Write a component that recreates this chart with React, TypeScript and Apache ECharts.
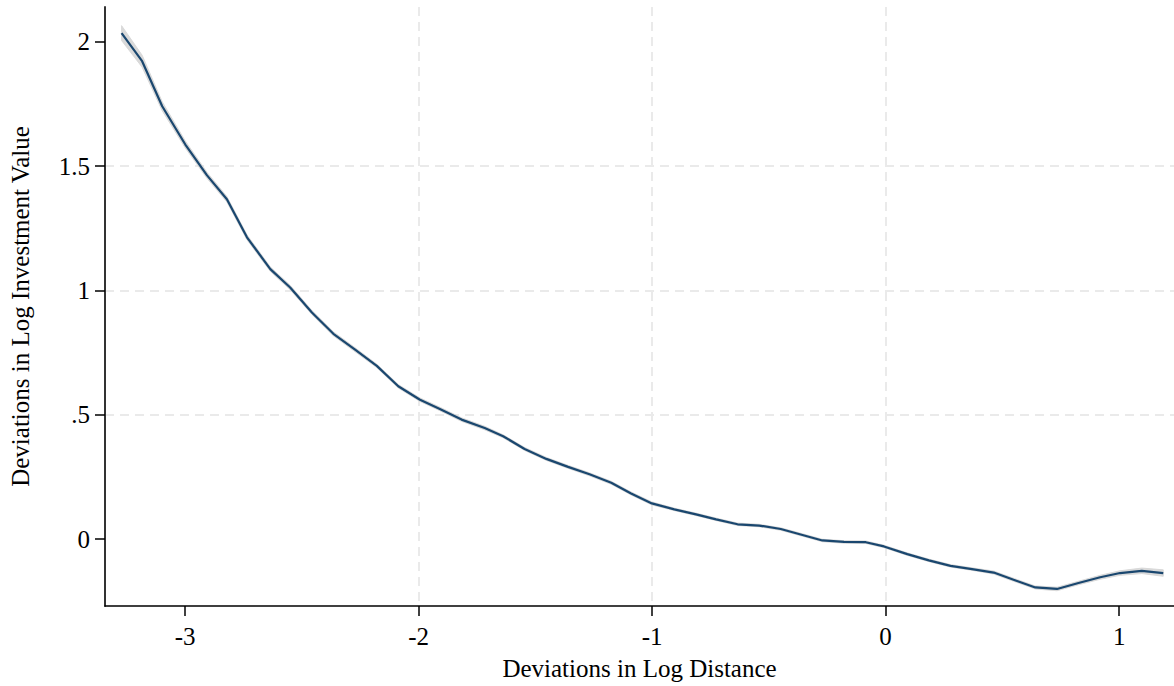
import React, { useEffect, useRef } from "react";
import * as echarts from "echarts";

const xValues = [
  -3.272, -3.184, -3.098, -2.999, -2.906, -2.821, -2.735, -2.635, -2.55, -2.457,
  -2.365, -2.272, -2.179, -2.087, -1.994, -1.909, -1.816, -1.717, -1.638, -1.546,
  -1.453, -1.36, -1.268, -1.175, -1.09, -1.001, -0.905, -0.812, -0.726, -0.634,
  -0.541, -0.449, -0.356, -0.271, -0.178, -0.085, -0.007, 0.093, 0.185, 0.278,
  0.37, 0.463, 0.548, 0.641, 0.734, 0.826, 0.919, 1.004, 1.097, 1.189,
];
const yValues = [
  2.035, 1.922, 1.741, 1.587, 1.463, 1.367, 1.214, 1.086, 1.012, 0.912,
  0.826, 0.762, 0.697, 0.615, 0.561, 0.524, 0.481, 0.447, 0.414, 0.363,
  0.323, 0.291, 0.261, 0.227, 0.184, 0.144, 0.12, 0.1, 0.08, 0.06,
  0.055, 0.041, 0.017, -0.005, -0.011, -0.012, -0.029, -0.06, -0.085, -0.107,
  -0.12, -0.134, -0.163, -0.194, -0.2, -0.176, -0.153, -0.136, -0.127, -0.136,
];
const ciHalfWidth = [
  0.03, 0.024, 0.018, 0.014, 0.012, 0.011, 0.01, 0.009, 0.009, 0.008,
  0.008, 0.008, 0.007, 0.007, 0.007, 0.007, 0.007, 0.007, 0.006, 0.006,
  0.006, 0.006, 0.006, 0.006, 0.006, 0.006, 0.005, 0.005, 0.005, 0.005,
  0.005, 0.005, 0.005, 0.005, 0.005, 0.005, 0.005, 0.005, 0.005, 0.005,
  0.005, 0.006, 0.006, 0.006, 0.007, 0.007, 0.008, 0.009, 0.011, 0.013,
];
const xTicks = [-3, -2, -1, 0, 1];
const yTicks = [0, 0.5, 1, 1.5, 2];
const xTitle = "Deviations in Log Distance";
const yTitle = "Deviations in Log Investment Value";

const FONT = '"Liberation Serif", "Times New Roman", serif';

export default function App() {
  const ref = useRef<HTMLDivElement>(null);
  useEffect(() => {
    if (!ref.current) return;
    const chart = echarts.init(ref.current, null, { renderer: "svg" });
    const lineData = xValues.map((x, i) => [x, yValues[i]]);
    const bandData = xValues.map((x, i) => [x, yValues[i] - ciHalfWidth[i], yValues[i] + ciHalfWidth[i]]);
    const splitLine = {
      show: true,
      showMinLine: false,
      showMaxLine: false,
      lineStyle: { color: "#eaeaea", type: [9, 6], width: 2 },
    };
    chart.setOption({
      animation: false,
      backgroundColor: "#ffffff",
      grid: { left: 103, right: 0, top: 7, bottom: 78, containLabel: false },
      xAxis: {
        type: "value",
        min: -3.343,
        max: 1.235,
        name: xTitle,
        nameLocation: "middle",
        nameGap: 50,
        nameTextStyle: { fontFamily: FONT, fontSize: 25, color: "#000" },
        axisLine: { show: true, onZero: false, lineStyle: { color: "#000", width: 1.5 } },
        axisTick: { show: true, length: 10, customValues: xTicks, lineStyle: { color: "#000", width: 1.5 } },
        axisLabel: {
          customValues: xTicks,
          margin: 18,
          fontFamily: FONT,
          fontSize: 25,
          color: "#000",
          formatter: (v: number) => String(v),
        },
        splitLine,
      },
      yAxis: {
        type: "value",
        min: -0.2685,
        max: 2.14,
        name: yTitle,
        nameLocation: "middle",
        nameGap: 72,
        nameTextStyle: { fontFamily: FONT, fontSize: 25, color: "#000" },
        axisLine: { show: true, onZero: false, lineStyle: { color: "#333", width: 2 } },
        axisTick: { show: true, length: 10, customValues: yTicks, lineStyle: { color: "#000", width: 1.5 } },
        axisLabel: {
          customValues: yTicks,
          margin: 15,
          fontFamily: FONT,
          fontSize: 25,
          color: "#000",
          formatter: (v: number) => {
            if (v === 0) return "0";
            const s = String(v);
            return s.startsWith("0.") ? s.slice(1) : s;
          },
        },
        splitLine,
      },
      series: [
        {
          type: "custom",
          name: "CI",
          silent: true,
          data: bandData,
          encode: { x: 0, y: [1, 2] },
          renderItem: (params: any, api: any) => {
            if (params.dataIndex !== 0) return null;
            const upper = bandData.map((d) => api.coord([d[0], d[2]]));
            const lower = bandData.map((d) => api.coord([d[0], d[1]])).reverse();
            return {
              type: "polygon",
              shape: { points: upper.concat(lower) },
              style: { fill: "#d9d9d9", stroke: "#d9d9d9", lineWidth: 1 },
            };
          },
          z: 1,
        },
        {
          type: "line",
          name: "fit",
          data: lineData,
          showSymbol: false,
          symbol: "none",
          lineStyle: { color: "#1a476f", width: 2.2 },
          z: 2,
        },
      ],
    });
    return () => chart.dispose();
  }, []);
  return (
    <div
      ref={ref}
      style={{ position: "fixed", left: 0, top: 0, width: 1174, height: 686 }}
    />
  );
}
